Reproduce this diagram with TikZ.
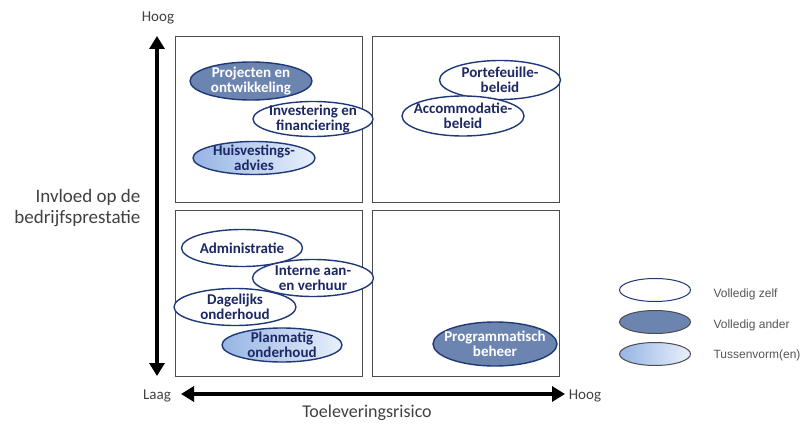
\documentclass[tikz,border=0pt]{standalone}
\usepackage{fontspec}
\setmainfont{Carlito}
\newfontfamily\legendfont{Liberation Sans}
\usetikzlibrary{arrows.meta,shapes.geometric,positioning}

\definecolor{navy}{RGB}{31,56,120}
\definecolor{navytext}{RGB}{28,40,100}
\definecolor{darkfill}{RGB}{108,133,176}
\definecolor{lightblue}{RGB}{150,180,228}
\definecolor{paleblue}{RGB}{232,240,252}
\definecolor{axisgray}{RGB}{64,64,64}
\definecolor{leggray}{RGB}{85,85,85}

\tikzset{
  quad/.style={draw=black!70,line width=1pt},
  task/.style={ellipse,draw=navy,line width=1.4pt,inner sep=0pt},
  zelf/.style={task,fill=white},
  ander/.style={task,fill=darkfill},
  tussen/.style={task,left color=lightblue,right color=paleblue},
  tasklabel/.style={align=center,inner sep=0pt,text=navytext,
    font=\bfseries\fontsize{15}{15.5}\selectfont},
  axis/.style={line width=3.5pt,{Triangle[width=15pt,length=13pt]}-{Triangle[width=15pt,length=13pt]}},
  axlabel/.style={text=axisgray,font=\fontsize{15}{17}\selectfont},
  legitem/.style={ellipse,draw=navy,line width=1pt,minimum width=71pt,minimum height=23pt,inner sep=0pt},
  legtext/.style={anchor=west,text=leggray,font=\legendfont\fontsize{12}{14}\selectfont}
}

\begin{document}
\begin{tikzpicture}[x=1pt,y=-1pt]
\useasboundingbox (0,0) rectangle (801,425);

% kwadranten
\foreach \x/\y in {175/37,372/37,175/210,372/210}
  \draw[quad] (\x,\y) rectangle ++(187,166);

% assen
\coordinate (ytop) at (157,36);
\coordinate (ybot) at (157,376);
\coordinate (xleft) at (181,394);
\coordinate (xright) at (565,394);
\draw[axis] (ybot) -- (ytop);
\draw[axis] (xleft) -- (xright);

\node[axlabel] (yhoog) at (158,18) {Hoog};
\node[axlabel] (xlaag) at (157,396) {Laag};
\node[axlabel] (xhoog) at (585,396) {Hoog};
\node[anchor=east,align=right,text=axisgray,font=\fontsize{19}{21}\selectfont] (ytitle) at (144,208) {Invloed op de\\bedrijfsprestatie};
\node[text=axisgray,font=\fontsize{18}{20}\selectfont] (xtitle) at (367,413) {Toeleveringsrisico};

% linksboven
\node[ander,minimum width=122pt,minimum height=38pt,
  label={[tasklabel,text=white]center:Projecten en\\ontwikkeling}] (proj) at (251,81) {};
\node[zelf,minimum width=120pt,minimum height=35pt,
  label={[tasklabel]center:Investering en\\financiering}] (inv) at (313,119) {};
\node[tussen,minimum width=122pt,minimum height=33pt,
  label={[tasklabel]center:Huisvestings-\\advies}] (huis) at (254,158) {};

% rechtsboven
\node[zelf,minimum width=121pt,minimum height=39pt,
  label={[tasklabel]center:Portefeuille-\\beleid}] (port) at (500,80) {};
\node[zelf,minimum width=122pt,minimum height=40pt,
  label={[tasklabel]center:Accommodatie-\\beleid}] (acc) at (463,116) {};

% linksonder
\node[zelf,minimum width=121pt,minimum height=37pt,
  label={[tasklabel]center:Administratie}] (adm) at (242,248) {};
\node[zelf,minimum width=121pt,minimum height=37pt,
  label={[tasklabel]center:Interne aan-\\en verhuur}] (intern) at (313,278) {};
\node[zelf,minimum width=122pt,minimum height=37pt,
  label={[tasklabel]center:Dagelijks\\onderhoud}] (dag) at (235,307) {};
\node[tussen,minimum width=120pt,minimum height=34pt,
  label={[tasklabel]center:Planmatig\\onderhoud}] (plan) at (282,345) {};

% rechtsonder
\node[ander,minimum width=124pt,minimum height=44pt,
  label={[tasklabel,text=white]center:Programmatisch\\beheer}] (prog) at (495,344) {};

% legenda
\node[legitem,fill=white] (leg1) at (655,290) {};
\node[legitem,fill=darkfill,draw=black!70] (leg2) at (655,322) {};
\node[legitem,left color=lightblue,right color=paleblue,draw=black!70] (leg3) at (655,354) {};
\node[legtext] (legt1) at (710,294) {Volledig zelf};
\node[legtext] (legt2) at (710,325) {Volledig ander};
\node[legtext] (legt3) at (710,355) {Tussenvorm(en)};
\end{tikzpicture}
\end{document}
